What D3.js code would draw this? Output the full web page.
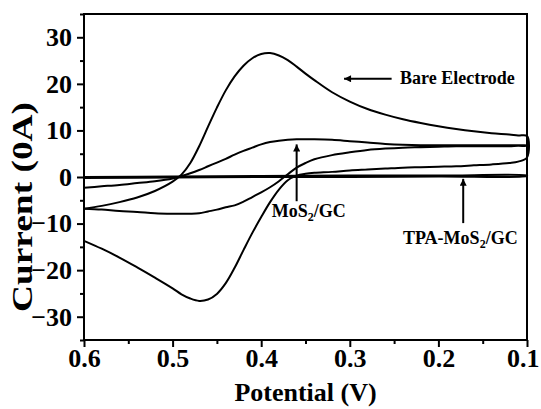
<!DOCTYPE html>
<html>
<head>
<meta charset="utf-8">
<script src="https://cdn.jsdelivr.net/npm/d3@7"></script>
<style>
  body { margin: 0; background: #fff; }
  text { font-family: "Liberation Serif", "Times New Roman", serif; font-weight: bold; fill: #000; }
</style>
</head>
<body>
<svg id="chart" width="541" height="409"></svg>
<script>
// potential grid for every scan (V)
var potential = [0.60,0.58,0.56,0.54,0.52,0.50,0.49,0.48,0.47,0.46,0.45,0.44,0.43,0.42,0.41,0.40,
                 0.39,0.38,0.37,0.36,0.35,0.34,0.32,0.30,0.28,0.26,0.24,0.22,0.20,0.18,0.16,0.14,0.12,0.11,0.10];

// bare electrode
var bareAnodic = [-6.8,-6.2,-5.4,-4.4,-3.0,-1.0,0.5,3.0,6.6,10.8,14.9,18.6,21.6,23.9,25.5,26.4,
                  26.6,26.1,25.1,23.7,22.2,20.8,18.2,16.2,14.6,13.4,12.4,11.6,10.9,10.3,9.8,9.4,9.1,8.9,8.8];
var bareCathodic = [-13.7,-15.4,-17.3,-19.4,-21.6,-23.9,-25.2,-26.1,-26.6,-26.3,-25.1,-22.8,-19.5,-15.7,-12.0,-8.6,
                    -5.4,-2.7,-0.7,0.3,0.7,0.9,1.1,1.4,1.6,1.8,2.0,2.1,2.2,2.3,2.5,2.7,3.0,3.3,4.2];

// MoS2/GC
var mosAnodic = [-2.3,-2.0,-1.7,-1.3,-0.9,-0.3,0.2,0.8,1.5,2.3,3.1,3.9,4.8,5.6,6.3,7.0,
                 7.5,7.8,8.0,8.1,8.1,8.1,8.0,7.7,7.4,7.1,6.9,6.8,6.8,6.8,6.8,6.8,6.8,6.8,6.8];
var mosCathodic = [-6.8,-7.0,-7.3,-7.5,-7.8,-7.9,-7.9,-7.9,-7.8,-7.4,-7.0,-6.5,-6.1,-5.3,-4.3,-3.3,
                   -2.2,-0.9,0.6,2.0,3.0,3.8,4.7,5.3,5.8,6.1,6.3,6.4,6.5,6.6,6.6,6.6,6.6,6.7,6.7];

// TPA-MoS2/GC (almost flat)
var tpaPotential = [0.60,0.50,0.40,0.30,0.20,0.10];
var tpaAnodic = [-0.2,-0.1,0.0,0.0,0.1,0.2];
var tpaCathodic = [0.0,0.1,0.2,0.3,0.3,0.3];

var xMajor = [0.6,0.5,0.4,0.3,0.2,0.1];
var xMinor = [0.55,0.45,0.35,0.25,0.15];
var yMajor = [-30,-20,-10,0,10,20,30];
var yMinor = [-35,-25,-15,-5,5,15,25,35];

var svg = d3.select("#chart");
var margin = {top: 14, right: 14, bottom: 69, left: 84};
var width = 541 - margin.left - margin.right;
var height = 409 - margin.top - margin.bottom;

var x = d3.scaleLinear().domain([0.6, 0.1]).range([0, width]);
var y = d3.scaleLinear().domain([-35, 35]).range([height, 0]);

var g = svg.append("g").attr("transform", "translate(" + margin.left + "," + margin.top + ")");

// turn a scan into a closed loop of points: anodic 0.6 -> 0.1 then cathodic 0.1 -> 0.6
function loop(pot, up, down) {
    var pts = pot.map(function(p, i) { return [p, up[i]]; });
    var back = pot.map(function(p, i) { return [p, down[i]]; }).reverse();
    return pts.concat(back);
}

var line = d3.line()
    .x(function(d) { return x(d[0]); })
    .y(function(d) { return y(d[1]); })
    .curve(d3.curveCatmullRom.alpha(0.5));

var scans = [
    loop(tpaPotential, tpaAnodic, tpaCathodic),
    loop(potential, mosAnodic, mosCathodic),
    loop(potential, bareAnodic, bareCathodic)
];

g.selectAll("path.scan")
    .data(scans)
    .enter()
    .append("path")
    .attr("class", "scan")
    .attr("d", line)
    .attr("fill", "none")
    .attr("stroke", "#000")
    .attr("stroke-width", 2)
;

// axes
var xAxis = g.append("g").attr("transform", "translate(0," + height + ")")
    .call(d3.axisBottom(x).tickValues(xMajor).tickSize(7).tickSizeOuter(0).tickFormat(d3.format(".1f")));
g.append("g").attr("transform", "translate(0," + height + ")")
    .call(d3.axisBottom(x).tickValues(xMinor).tickSize(4).tickSizeOuter(0).tickFormat(""));
var yAxis = g.append("g")
    .call(d3.axisLeft(y).tickValues(yMajor).tickSize(7).tickSizeOuter(0));
g.append("g")
    .call(d3.axisLeft(y).tickValues(yMinor).tickSize(4).tickSizeOuter(0).tickFormat(""));

g.selectAll(".domain").remove();
g.selectAll(".tick line").attr("stroke", "#000").attr("stroke-width", 2);

xAxis.selectAll("text")
    .attr("y", 27).attr("dy", 0)
    .attr("font-size", 26)
    .attr("font-family", "Liberation Serif, serif")
    .attr("font-weight", "bold");
// last label sits against the right edge of the picture
xAxis.selectAll("text").filter(function(d) { return d === 0.1; })
    .attr("text-anchor", "end")
    .attr("x", 12);
yAxis.selectAll("text")
    .attr("x", -12)
    .attr("font-size", 26)
    .attr("font-family", "Liberation Serif, serif")
    .attr("font-weight", "bold");

// frame
g.append("rect")
    .attr("width", width)
    .attr("height", height)
    .attr("fill", "none")
    .attr("stroke", "#000")
    .attr("stroke-width", 2);

// axis titles
svg.append("text")
    .attr("x", margin.left + width / 2)
    .attr("y", 401)
    .attr("text-anchor", "middle")
    .attr("font-size", 26)
    .text("Potential (V)");

svg.append("text")
    .attr("transform", "translate(32,207) rotate(-90)")
    .attr("text-anchor", "middle")
    .attr("font-size", 30)
    .attr("textLength", 210)
    .attr("lengthAdjust", "spacingAndGlyphs")
    .text("Current (0A)");

// arrow head
svg.append("defs").append("marker")
    .attr("id", "head")
    .attr("viewBox", "0 0 10 10")
    .attr("refX", 10)
    .attr("refY", 5)
    .attr("markerUnits", "userSpaceOnUse")
    .attr("markerWidth", 11)
    .attr("markerHeight", 7)
    .attr("orient", "auto")
    .append("path")
    .attr("d", "M0,0 L10,5 L0,10 z")
    .attr("fill", "#000");

// annotations, in data coordinates
var arrows = [
    {from: [0.2528, 21.1], to: [0.3065, 21.1]},
    {from: [0.36, -5.2], to: [0.36, 7.0]},
    {from: [0.172, -9.9], to: [0.172, -0.4]}
];

g.selectAll("line.arrow")
    .data(arrows)
    .enter()
    .append("line")
    .attr("class", "arrow")
    .attr("x1", function(d) { return x(d.from[0]); })
    .attr("y1", function(d) { return y(d.from[1]); })
    .attr("x2", function(d) { return x(d.to[0]); })
    .attr("y2", function(d) { return y(d.to[1]); })
    .attr("stroke", "#000")
    .attr("stroke-width", 2)
    .attr("marker-end", "url(#head)")
;

g.append("text")
    .attr("x", x(0.2433))
    .attr("y", y(19.9))
    .attr("font-size", 18)
    .text("Bare Electrode");

var mosLabel = g.append("text")
    .attr("x", x(0.388))
    .attr("y", y(-8.6))
    .attr("font-size", 18);
mosLabel.append("tspan").text("MoS");
mosLabel.append("tspan").attr("font-size", 12).attr("dy", 4).text("2");
mosLabel.append("tspan").attr("dy", -4).text("/GC");

var tpaLabel = g.append("text")
    .attr("x", x(0.240))
    .attr("y", y(-14.4))
    .attr("font-size", 18);
tpaLabel.append("tspan").text("TPA-MoS");
tpaLabel.append("tspan").attr("font-size", 12).attr("dy", 4).text("2");
tpaLabel.append("tspan").attr("dy", -4).text("/GC");
</script>
</body>
</html>
